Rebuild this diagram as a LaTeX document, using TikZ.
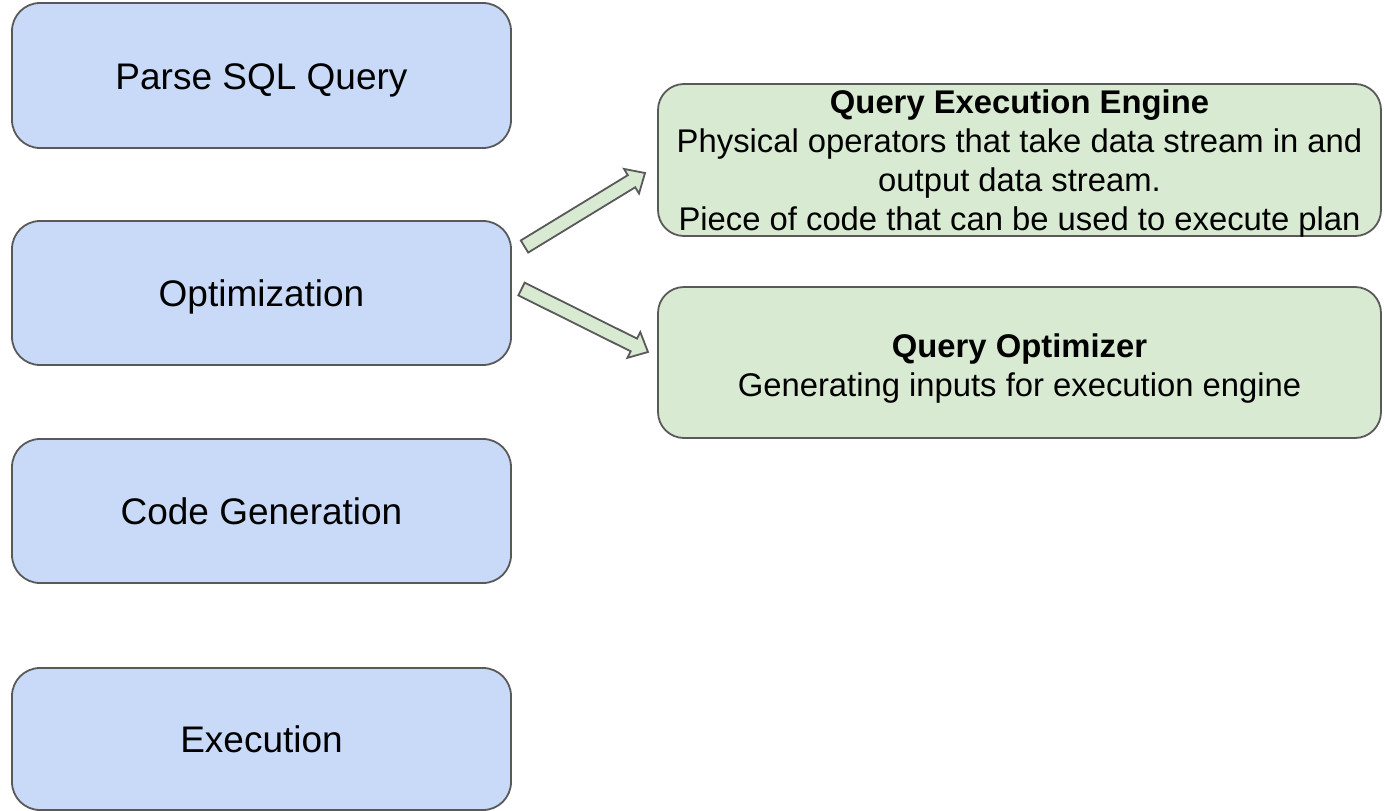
\documentclass[tikz,border=0pt]{standalone}
\usepackage{fontspec}
\setmainfont{Liberation Sans}
\usetikzlibrary{calc}
\definecolor{stepblue}{HTML}{C9DAF8}
\definecolor{notegreen}{HTML}{D9EAD3}
\definecolor{edgegray}{HTML}{595959}
\tikzset{
  stagebox/.style={draw=edgegray, line width=1.8pt, fill=stepblue, rounded corners=28pt,
    minimum width=499pt, inner sep=0pt, align=center,
    text height=27pt, text depth=0pt,
    font=\fontsize{37}{42}\selectfont},
  notebox/.style={draw=edgegray, line width=1.8pt, fill=notegreen, rounded corners=26pt,
    minimum width=723pt, inner sep=0pt},
  notetext/.style={align=center, inner sep=0pt,
    font=\fontsize{32.8}{39}\selectfont},
  blockarrow/.style={draw=edgegray, line width=1.8pt, fill=notegreen, line join=miter}
}
% block arrow from tail point #1 to tip point #2
\newcommand\drawblockarrow[2]{%
  \coordinate (hb) at ($(#2)!15.8pt!(#1)$);
  \draw[blockarrow]
    ($(#1)!7.1pt!90:(#2)$) -- ($(hb)!7.1pt!-90:(#1)$) -- ($(hb)!14.4pt!-90:(#1)$)
    -- (#2) -- ($(hb)!14.4pt!90:(#1)$) -- ($(hb)!7.1pt!90:(#1)$)
    -- ($(#1)!7.1pt!-90:(#2)$) -- cycle;
}
\begin{document}
\begin{tikzpicture}[x=1pt,y=-1pt]
  \useasboundingbox (0,0) rectangle (1385,811);

  % pipeline stages
  \node[stagebox, minimum height=145pt] (parse) at (261.5,75.5) {Parse SQL Query};
  \node[stagebox, minimum height=144pt] (opt)   at (261.5,293) {Optimization};
  \node[stagebox, minimum height=144pt] (gen)   at (261.5,511) {Code Generation};
  \node[stagebox, minimum height=142pt] (exec)  at (261.5,739) {Execution};

  % components of the optimization stage
  \node[notebox, minimum height=152pt] (engine) at (1019.5,160) {};
  \node[notetext] (enginetxt) at (1019.5,164)
    {\textbf{Query Execution Engine}\\Physical operators that take data stream in and\\output data stream.\\Piece of code that can be used to execute plan};
  \node[notebox, minimum height=151pt] (optimizer) at (1019.5,362.5) {};
  \node[notetext] (optimizertxt) at (1019.5,369)
    {\textbf{Query Optimizer}\\Generating inputs for execution engine};

  % block arrows from the optimization stage
  \coordinate (t1) at (524.5,246.5);
  \coordinate (h1) at (645,173);
  \coordinate (t2) at (521.5,289);
  \coordinate (h2) at (648,352);
  \drawblockarrow{t1}{h1}
  \drawblockarrow{t2}{h2}
\end{tikzpicture}
\end{document}
